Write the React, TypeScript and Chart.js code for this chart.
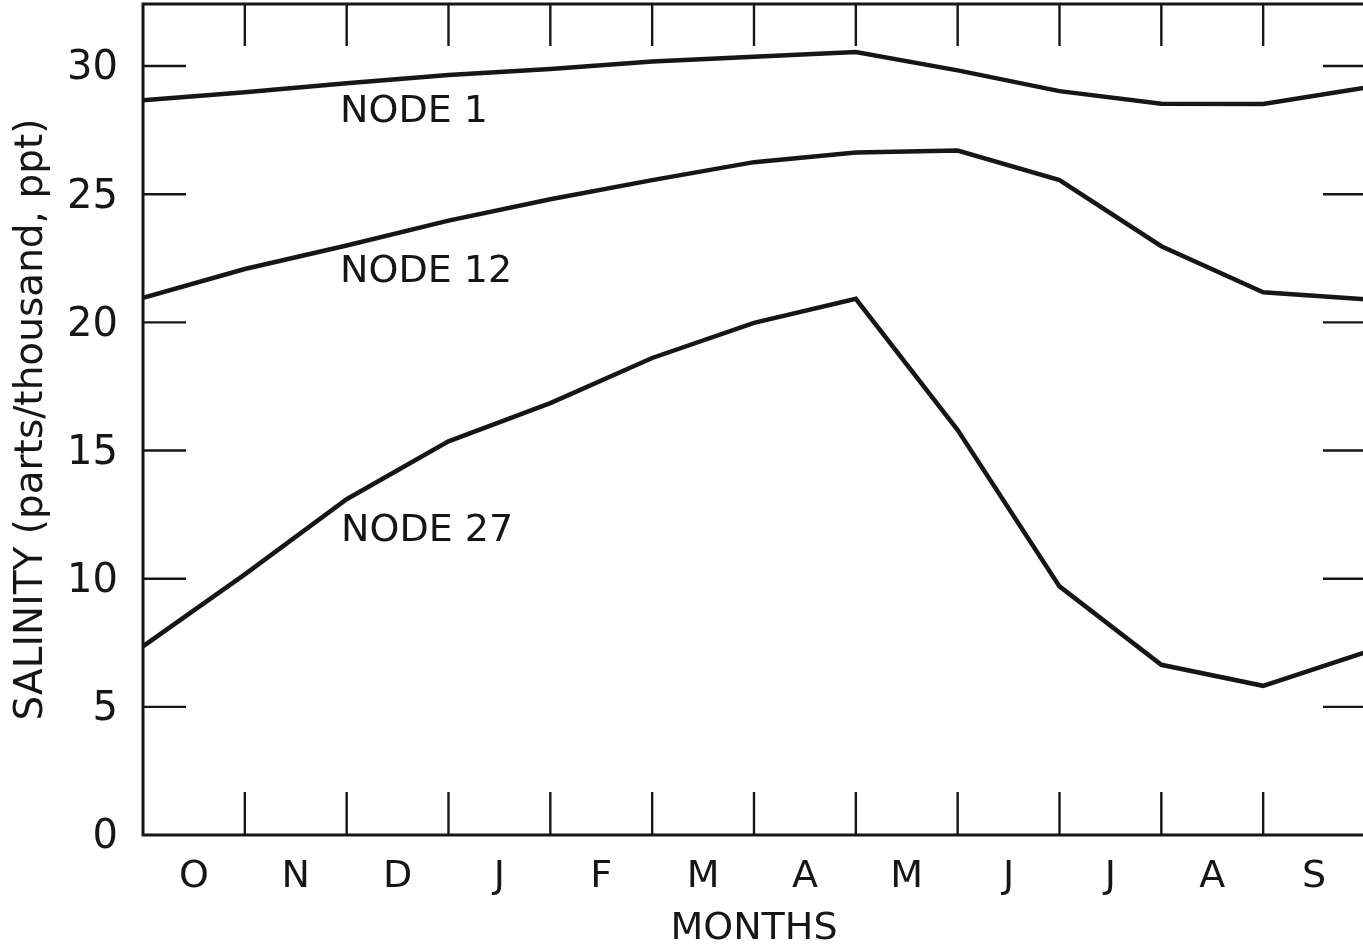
import React, { useEffect, useRef } from "react";
import { Chart, registerables } from "chart.js";

Chart.register(...registerables);

const months = ["O", "N", "D", "J", "F", "M", "A", "M", "J", "J", "A", "S"];
const node1 = [28.66, 28.98, 29.33, 29.65, 29.88, 30.18, 30.36, 30.55, 29.83, 29.02, 28.53, 28.52, 29.15];
const node12 = [20.96, 22.08, 23.0, 23.97, 24.8, 25.55, 26.25, 26.63, 26.7, 25.55, 22.97, 21.17, 20.9];
const node27 = [7.36, 10.17, 13.1, 15.36, 16.85, 18.61, 19.98, 20.92, 15.8, 9.7, 6.64, 5.82, 7.12];
const yTicks = [0, 5, 10, 15, 20, 25, 30];
const seriesNames = ["NODE 1", "NODE 12", "NODE 27"];
const labelAnchors = [
  { x: 1.935, y: 28.22 },
  { x: 1.935, y: 21.97 },
  { x: 1.945, y: 11.85 },
];

const FONT = "'DejaVu Sans', 'Liberation Sans', sans-serif";
const INK = "#161616";

const framePlugin = {
  id: "frame",
  afterDatasetsDraw(chart: any) {
    const { ctx, chartArea } = chart;
    const xs = chart.scales.x;
    const ys = chart.scales.y;
    const { left, right, top, bottom } = chartArea;
    ctx.save();
    ctx.strokeStyle = INK;
    ctx.lineCap = "butt";
    ctx.lineWidth = 3;
    ctx.beginPath();
    ctx.moveTo(left, top);
    ctx.lineTo(left, bottom);
    ctx.moveTo(left - 1.5, bottom);
    ctx.lineTo(right + 2, bottom);
    ctx.moveTo(left - 1.5, top);
    ctx.lineTo(right + 2, top);
    ctx.stroke();
    ctx.lineWidth = 2.4;
    ctx.beginPath();
    for (let i = 1; i < months.length; i++) {
      const px = xs.getPixelForValue(i);
      ctx.moveTo(px, bottom);
      ctx.lineTo(px, bottom - 43);
      ctx.moveTo(px, top);
      ctx.lineTo(px, top + 42);
    }
    for (const v of yTicks) {
      if (v === 0) continue;
      const py = ys.getPixelForValue(v);
      ctx.moveTo(left, py);
      ctx.lineTo(left + 43, py);
      ctx.moveTo(right - 42, py);
      ctx.lineTo(right, py);
    }
    ctx.stroke();
    ctx.fillStyle = INK;
    ctx.font = `38px ${FONT}`;
    ctx.textAlign = "left";
    ctx.textBaseline = "middle";
    seriesNames.forEach((name, i) => {
      const a = labelAnchors[i];
      ctx.fillText(name, xs.getPixelForValue(a.x), ys.getPixelForValue(a.y));
    });
    ctx.restore();
  },
};

export default function App() {
  const ref = useRef<HTMLCanvasElement | null>(null);
  useEffect(() => {
    if (!ref.current) return;
    const mk = (arr: number[], name: string) => ({
      label: name,
      data: arr.map((v, i) => ({ x: i, y: v })),
      borderColor: INK,
      borderWidth: 4.5,
      pointRadius: 0,
      tension: 0,
      fill: false,
    });
    const chart = new Chart(ref.current, {
      type: "line",
      data: {
        datasets: [mk(node1, seriesNames[0]), mk(node12, seriesNames[1]), mk(node27, seriesNames[2])],
      },
      plugins: [framePlugin],
      options: {
        responsive: false,
        animation: false,
        layout: { padding: { left: 0, right: 5, top: 4, bottom: 0 } },
        plugins: { legend: { display: false }, tooltip: { enabled: false } },
        scales: {
          x: {
            type: "linear",
            min: 0,
            max: 12,
            grid: { display: false, drawTicks: false },
            border: { display: false },
            afterBuildTicks: (s: any) => {
              s.ticks = months.map((_, i) => ({ value: i + 0.5 }));
            },
            afterFit: (s: any) => {
              s.height = 117;
              s.paddingLeft = 0;
              s.paddingRight = 0;
            },
            ticks: {
              autoSkip: false,
              maxRotation: 0,
              padding: 19,
              color: INK,
              font: { family: FONT, size: 38 },
              callback: (_v: any, idx: number) => months[idx],
            },
            title: {
              display: true,
              text: "MONTHS",
              color: INK,
              font: { family: FONT, size: 38 },
              padding: { top: 0, bottom: 0 },
            },
          },
          y: {
            min: 0,
            max: 32.42,
            grid: { display: false, drawTicks: false },
            border: { display: false },
            afterBuildTicks: (s: any) => {
              s.ticks = yTicks.map((v) => ({ value: v }));
            },
            afterFit: (s: any) => {
              s.width = 143;
              s.paddingTop = 0;
              s.paddingBottom = 0;
            },
            ticks: {
              padding: 25,
              labelOffset: 3,
              color: INK,
              font: { family: FONT, size: 40 },
            },
            title: {
              display: true,
              text: "SALINITY (parts/thousand, ppt)",
              color: INK,
              font: { family: FONT, size: 39 },
              padding: { top: 8, bottom: 0 },
            },
          },
        },
      },
    });
    return () => chart.destroy();
  }, []);
  return (
    <div
      style={{
        position: "absolute",
        left: 0,
        top: 0,
        width: 1363,
        height: 952,
        overflow: "hidden",
        background: "#fff",
      }}
    >
      <canvas ref={ref} width={1370} height={952} style={{ display: "block", width: 1370, height: 952 }} />
    </div>
  );
}
